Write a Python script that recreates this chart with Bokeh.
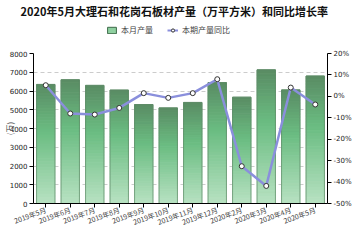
import numpy as np
from bokeh.plotting import figure
from bokeh.layouts import column
from bokeh.models import (Range1d, LinearAxis, FixedTicker, PrintfTickFormatter,
                          Legend, LegendItem, ColumnDataSource)
from bokeh.embed import file_html
from bokeh.resources import INLINE

months = ["2019年5月", "2019年6月", "2019年7月", "2019年8月", "2019年9月", "2019年10月",
          "2019年11月", "2019年12月", "2020年2月", "2020年3月", "2020年4月", "2020年5月"]
output = [6350, 6600, 6300, 6050, 5280, 5100, 5390, 6450, 5670, 7130, 6060, 6800]
yoy = [5.2, -8.0, -8.5, -5.4, 1.5, -0.7, 1.5, 8.0, -32.6, -41.8, 4.1, -3.8]

FONT = "Noto Sans CJK SC"
BAR_LABEL = "本月产量"
LINE_LABEL = "本期产量同比"
TITLE = "2020年5月大理石和花岗石板材产量（万平方米）和同比增长率"

# ---- header figure: title + legend ----
h = figure(width=360, height=40, x_range=Range1d(0, 1), y_range=Range1d(0, 1),
           x_axis_type=None, y_axis_type=None,
           output_backend="svg", toolbar_location=None,
           min_border_left=33, min_border_right=33, min_border_top=0, min_border_bottom=0)
h.grid.grid_line_color = None
h.outline_line_color = None
sw = h.vbar(x=[-5], top=[-5], width=0.5, fill_color="#8fd0a0", line_color="#3d6a48", line_width=1)
hl = h.line(x=[-5, -4], y=[-5, -5], line_color="#8a8fdc", line_width=2)
hs = h.scatter(x=[-5], y=[-5], size=5, fill_color="white", line_color="#333333", line_width=1)
legend = Legend(items=[LegendItem(label=BAR_LABEL, renderers=[sw]),
                       LegendItem(label=LINE_LABEL, renderers=[hl, hs])],
                orientation="horizontal", location=(73, 5))
legend.label_text_font = FONT
legend.label_text_font_size = "8px"
legend.glyph_width = 11
legend.glyph_height = 8
legend.spacing = 14
legend.padding = 0
legend.margin = 0
legend.border_line_color = None
legend.background_fill_alpha = 0
legend.label_standoff = 4
legend.label_height = 10
h.add_layout(legend)
h.title.text = TITLE
h.title.text_font = FONT
h.title.text_font_size = "11px"
h.title.text_font_style = "bold"
h.title.align = "left"
h.title.offset = -13
h.title.standoff = 0
h.title.text_color = "#111111"

# ---- main chart ----
p = figure(width=360, height=200, x_range=months, y_range=Range1d(0, 8000),
           output_backend="svg", toolbar_location=None,
           min_border_left=33, min_border_right=33, min_border_top=13, min_border_bottom=37)
p.extra_y_ranges = {"pct": Range1d(-50, 20)}

N = 40
stops = np.array([[0.0, 0x5a, 0x8c, 0x64], [0.4, 0x6b, 0xbd, 0x82], [1.0, 0xb8, 0xe2, 0xc2]])
xs, bots, tops, cols = [], [], [], []
for i in range(N):
    f = (i + 0.5) / N
    r = np.interp(f, stops[:, 0], stops[:, 1])
    g = np.interp(f, stops[:, 0], stops[:, 2])
    b = np.interp(f, stops[:, 0], stops[:, 3])
    c = "#%02x%02x%02x" % (int(r), int(g), int(b))
    for m, v in zip(months, output):
        xs.append(m)
        tops.append(v * (1 - i / N))
        bots.append(v * (1 - (i + 1) / N))
        cols.append(c)
p.vbar(x=xs, top=tops, bottom=bots, width=0.75, fill_color=cols, line_color=cols)
p.vbar(x=months, top=output, width=0.75, fill_alpha=0,
       line_color="#5f8a68", line_alpha=0.7, line_width=1)

src = ColumnDataSource(dict(x=months, y=yoy))
p.line("x", "y", source=src, y_range_name="pct", line_color="#8a8fdc", line_width=2.5)
p.scatter("x", "y", source=src, y_range_name="pct", size=5, fill_color="white",
          line_color="#333333", line_width=1)

ax = p.yaxis[0]
ax.ticker = FixedTicker(ticks=list(range(0, 8001, 1000)))
ax.axis_label = "(万)"
ax.axis_label_text_font = FONT
ax.axis_label_text_font_size = "8px"
ax.axis_label_text_font_style = "normal"
ax.axis_label_standoff = -8
ax.major_label_text_font_size = "7px"
ax.major_label_text_font = "DejaVu Sans"
ax.major_label_text_color = "#222222"
ax.minor_tick_line_color = None
ax.major_tick_out = 4
ax.major_tick_in = 0
ax.axis_line_color = "black"
ax.major_label_standoff = 2

rax = LinearAxis(y_range_name="pct", ticker=FixedTicker(ticks=list(range(-50, 21, 10))),
                 formatter=PrintfTickFormatter(format="%d%%"))
rax.major_label_text_font_size = "7px"
rax.major_label_text_font = "DejaVu Sans"
rax.major_label_text_color = "#222222"
rax.minor_tick_line_color = None
rax.major_tick_out = 4
rax.major_tick_in = 0
rax.major_label_standoff = 2
p.add_layout(rax, "right")

xa = p.xaxis[0]
xa.major_label_orientation = 0.35
xa.major_label_text_font = FONT
xa.major_label_text_font_size = "7px"
xa.major_label_text_color = "#444444"
xa.major_tick_out = 4
xa.major_tick_in = 0
xa.axis_line_color = "black"
xa.major_label_standoff = 2

p.xgrid.grid_line_color = None
p.ygrid.grid_line_color = "#cccccc"
p.ygrid.grid_line_dash = "4 3"
p.outline_line_color = None
p.x_range.range_padding = 0

layout = column(h, p, spacing=0)
open("out.html", "w").write(file_html(layout, INLINE))
